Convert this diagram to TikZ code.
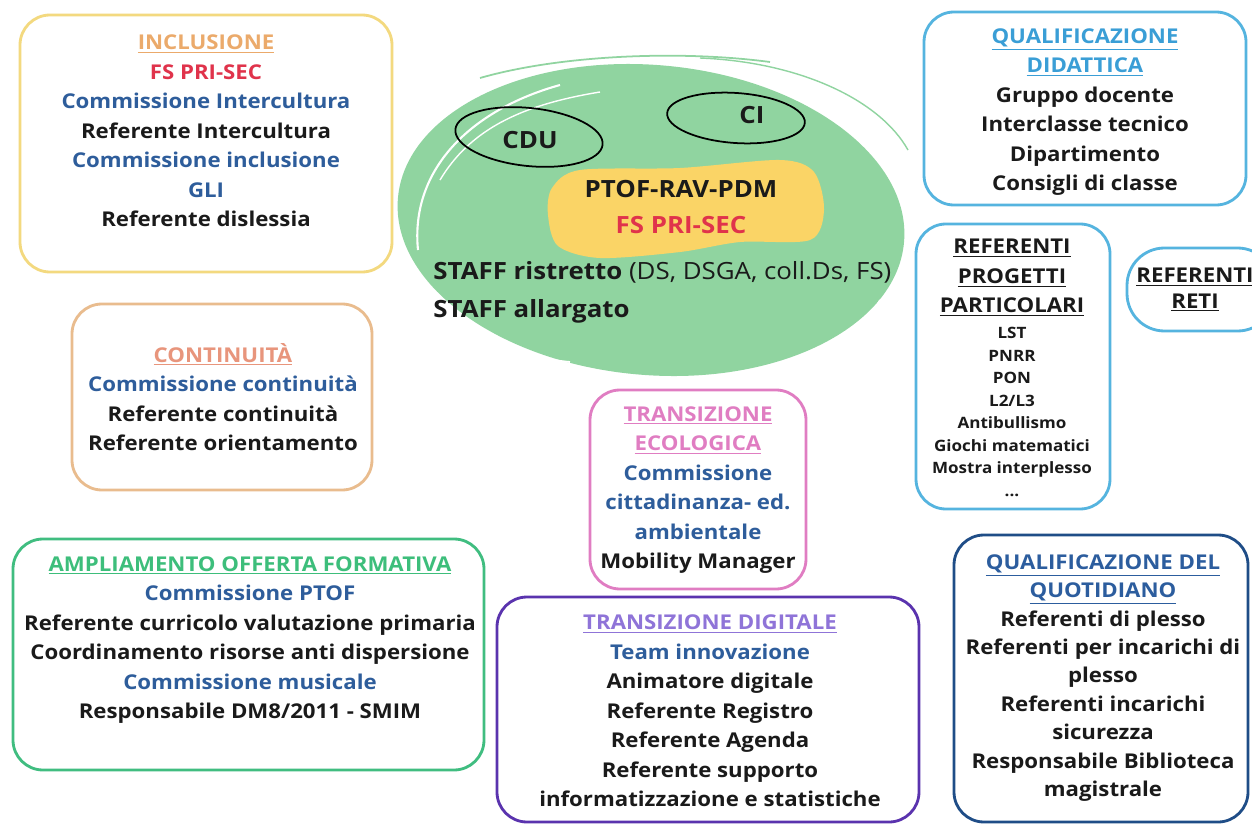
\documentclass[tikz,border=0pt]{standalone}
\usepackage{fontspec}
\setmainfont{Open Sans}[FakeStretch=1.09]
\usepackage{xcolor}
\usetikzlibrary{positioning}

\definecolor{ink}{HTML}{1A1A1A}
\definecolor{commBlue}{HTML}{2E5D9B}
\definecolor{fsRed}{HTML}{E0334B}
\definecolor{inclBorder}{HTML}{F3D97F}
\definecolor{inclTitle}{HTML}{EBAA6B}
\definecolor{contBorder}{HTML}{E9BC8E}
\definecolor{contTitle}{HTML}{E8957C}
\definecolor{qualBorder}{HTML}{55B4DF}
\definecolor{qualTitle}{HTML}{3A9ED6}
\definecolor{ecoPink}{HTML}{E07DC2}
\definecolor{aofBorder}{HTML}{40BD80}
\definecolor{aofTitle}{HTML}{3DBE7B}
\definecolor{digBorder}{HTML}{5A33AE}
\definecolor{digTitle}{HTML}{8F74D8}
\definecolor{quotBlue}{HTML}{1F4D87}
\definecolor{quotTitle}{HTML}{2C5D9E}
\definecolor{staffGreen}{HTML}{90D4A0}
\definecolor{ptofYellow}{HTML}{FAD466}

\newcommand{\ttl}[2]{\textcolor{#1}{\underline{#2}}}
\newcommand{\comm}[1]{\textcolor{commBlue}{#1}}

\tikzset{
    box/.style={line width=1.6pt, rounded corners=0.6cm},
    txt/.style={align=center, inner sep=0pt, text=ink,
        font=\bfseries\fontsize{11.6}{16.8}\selectfont},
    smalltxt/.style={align=center, inner sep=0pt, text=ink,
        font=\bfseries\fontsize{8.9}{12.8}\selectfont},
    bigtxt/.style={inner sep=0pt, text=ink,
        font=\bfseries\fontsize{13.5}{21}\selectfont}
}

\begin{document}
\begin{tikzpicture}[x=0.02cm, y=-0.02cm]
                \useasboundingbox[fill=white] (0,0) rectangle (1252,825);

                % staff
                \fill[
                    staffGreen,
                    rotate around={-5:(651,220)}
                ] (651,220) ellipse [x radius=254, y radius=155];
                \draw[white, line width=1.2pt] (418,250) .. controls (410,170) and (470,110) .. (560,85);
                \draw[white, line width=0.8pt] (440,180) .. controls (470,130) and (520,105) .. (600,92);
                \draw[white, line width=1pt] (425,280) .. controls (450,330) and (500,355) .. (570,362);
                \draw[white, line width=0.8pt] (790,95) .. controls (840,110) and (880,140) .. (895,175);
                \draw[white, line width=1pt] (880,300) .. controls (870,320) and (855,335) .. (835,345);
                \draw[staffGreen, line width=1pt] (480,78) .. controls (560,55) and (680,50) .. (770,62);
                \draw[staffGreen, line width=0.8pt] (700,58) .. controls (800,62) and (880,100) .. (908,150);

                \fill[ptofYellow] plot[smooth cycle] coordinates {
                    (552,188) (580,170) (680,168) (780,160) (814,172) (824,210)
                    (810,240) (740,242) (680,252) (600,258) (558,246) (548,215)};

                \draw[
                    line width=1pt,
                    rotate around={-6:(529,137)}
                ] (529,137) ellipse [x radius=74, y radius=29];
                \draw[
                    line width=1pt,
                    rotate around={-4:(736,118)}
                ] (736,118) ellipse [x radius=69, y radius=25];

                \node[bigtxt] (cdu) at (530,140) {CDU};
                \node[bigtxt] (ci) at (752,115) {CI};
                \node[bigtxt, align=center] (ptof) at (681,207) {PTOF-RAV-PDM\\\textcolor{fsRed}{FS PRI-SEC}};
                \node[bigtxt, align=left, anchor=west,
                    font=\bfseries\fontsize{13.5}{21.5}\selectfont] (staff) at (433,292)
                    {STAFF ristretto \mdseries(DS, DSGA, coll.Ds, FS)\\STAFF allargato};

                % inclusione
                \draw[box, draw=inclBorder] (20,15) rectangle (392,272);
                \node[txt] (incl) at (206,131) {\ttl{inclTitle}{INCLUSIONE}\\
                    \textcolor{fsRed}{FS PRI-SEC}\\
                    \comm{Commissione Intercultura}\\
                    Referente Intercultura\\
                    \comm{Commissione inclusione}\\
                    \comm{GLI}\\
                    Referente dislessia};

                % continuita
                \draw[box, draw=contBorder] (72,304) rectangle (372,490);
                \node[txt] (cont) at (223,397) {\ttl{contTitle}{CONTINUITÀ}\\
                    \comm{Commissione continuità}\\
                    Referente continuità\\
                    Referente orientamento};

                % ampliamento offerta formativa
                \draw[box, draw=aofBorder] (13,539) rectangle (484,770);
                \node[txt] (aof) at (250,640) {\ttl{aofTitle}{AMPLIAMENTO OFFERTA FORMATIVA}\\
                    \comm{Commissione PTOF}\\
                    Referente curricolo valutazione primaria\\
                    Coordinamento risorse anti dispersione\\
                    \comm{Commissione musicale}\\
                    Responsabile DM8/2011 - SMIM};

                % transizione ecologica
                \draw[box, draw=ecoPink] (590,390) rectangle (806,589);
                \node[txt] (eco) at (698,490) {\ttl{ecoPink}{TRANSIZIONE}\\
                    \ttl{ecoPink}{ECOLOGICA}\\
                    \comm{Commissione}\\
                    \comm{cittadinanza- ed.}\\
                    \comm{ambientale}\\
                    Mobility Manager};

                % transizione digitale
                \draw[box, draw=digBorder] (497,597) rectangle (919,822);
                \node[txt] (dig) at (710,711) {\ttl{digTitle}{TRANSIZIONE DIGITALE}\\
                    \comm{Team innovazione}\\
                    Animatore digitale\\
                    Referente Registro\\
                    Referente Agenda\\
                    Referente supporto\\
                    informatizzazione e statistiche};

                % qualificazione didattica
                \draw[box, draw=qualBorder] (924,12) rectangle (1246,205);
                \node[txt] (qdid) at (1085,112) {\ttl{qualTitle}{QUALIFICAZIONE}\\
                    \ttl{qualTitle}{DIDATTICA}\\
                    Gruppo docente\\
                    Interclasse tecnico\\
                    Dipartimento\\
                    Consigli di classe};

                % referenti progetti particolari
                \draw[box, draw=qualBorder] (916,224) rectangle (1110,509);
                \node[txt] (rppTitle) at (1012,278) {\ttl{ink}{REFERENTI}\\
                    \ttl{ink}{PROGETTI}\\
                    \ttl{ink}{PARTICOLARI}};
                \node[smalltxt] (rppList) at (1012,412) {LST\\PNRR\\PON\\L2/L3\\
                    Antibullismo\\Giochi matematici\\Mostra interplesso\\...};

                % referenti reti
                \draw[box, draw=qualBorder, rounded corners=0.75cm] (1127,248) rectangle (1275,331);
                \node[txt, font=\bfseries\fontsize{11.6}{14.5}\selectfont] (reti) at (1195,290)
                    {\ttl{ink}{REFERENTI}\\\ttl{ink}{RETI}};

                % qualificazione del quotidiano
                \draw[box, draw=quotBlue] (954,535) rectangle (1248,822);
                \node[txt, font=\bfseries\fontsize{11.6}{16.2}\selectfont] (quot) at (1103,678)
                    {\ttl{quotTitle}{QUALIFICAZIONE DEL}\\
                    \ttl{quotTitle}{QUOTIDIANO}\\
                    Referenti di plesso\\
                    Referenti per incarichi di\\
                    plesso\\
                    Referenti incarichi\\
                    sicurezza\\
                    Responsabile Biblioteca\\
                    magistrale};

\end{tikzpicture}
\end{document}
